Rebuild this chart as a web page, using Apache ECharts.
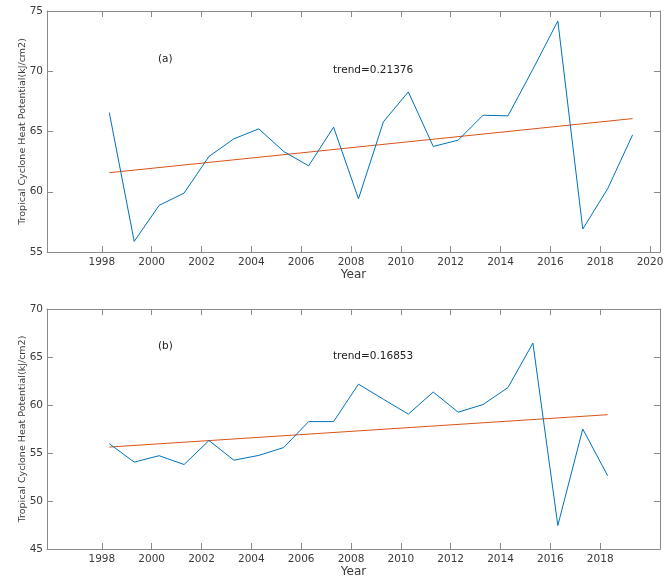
<!DOCTYPE html>
<html>
<head>
<meta charset="utf-8">
<script src="https://cdn.jsdelivr.net/npm/echarts@6/dist/echarts.min.js"></script>
<style>
html,body{margin:0;padding:0;background:#fff;}
#chart{width:668px;height:579px;}
</style>
</head>
<body>
<div id="chart"></div>
<script>
// ---- data ----
const yearsA = [1998.3,1999.3,2000.3,2001.3,2002.3,2003.3,2004.3,2005.3,2006.3,2007.3,2008.3,2009.3,2010.3,2011.3,2012.3,2013.3,2014.3,2015.3,2016.3,2017.3,2018.3,2019.3];
const tchpA  = [66.57,55.88,58.87,59.89,62.93,64.39,65.22,63.34,62.15,65.36,59.42,65.80,68.29,63.76,64.28,66.35,66.30,70.17,74.17,56.91,60.25,64.72];
const trendYearsA = [1998.3, 2019.3];
const trendA = [61.58, 66.07];

const yearsB = [1998.3,1999.3,2000.3,2001.3,2002.3,2003.3,2004.3,2005.3,2006.3,2007.3,2008.3,2009.3,2010.3,2011.3,2012.3,2013.3,2014.3,2015.3,2016.3,2017.3,2018.3];
const tchpB  = [55.97,54.05,54.72,53.80,56.30,54.25,54.75,55.57,58.27,58.27,62.17,60.60,59.05,61.35,59.25,60.05,61.82,66.45,47.45,57.50,52.63];
const trendYearsB = [1998.3, 2018.3];
const trendB = [55.62, 58.99];

const tickYearsA = [1998,2000,2002,2004,2006,2008,2010,2012,2014,2016,2018,2020];
const tickYearsB = [1998,2000,2002,2004,2006,2008,2010,2012,2014,2016,2018];
const panelLabels = ['(a)', '(b)'];
const trendLabels = ['trend=0.21376', 'trend=0.16853'];
const yName = 'Tropical Cyclone Heat Potential(kJ/cm2)';
const xName = 'Year';

// ---- styling ----
const FONT = 'DejaVu Sans';
const boxColor = '#8a8a8a';
const labelColor = '#3a3a3a';
const blue = '#0072BD';
const orange = '#D95319';
const xMin = 1995.8, xMax = 2020.4;

function zip(xs, ys){ return xs.map((x,i)=>[x, ys[i]]); }

function xAxes(gridIndex, ticks){
  return [
    {
      type:'value', gridIndex, min:xMin, max:xMax, position:'bottom',
      name:xName, nameLocation:'middle', nameGap:17, nameMoveOverlap:false,
      nameTextStyle:{fontFamily:FONT, fontSize:12, color:labelColor},
      axisLine:{show:true, onZero:false, lineStyle:{color:boxColor, width:1}},
      axisTick:{show:true, inside:true, length:6, customValues:ticks, lineStyle:{color:boxColor}},
      axisLabel:{show:true, customValues:ticks, margin:5, fontFamily:FONT, fontSize:10.5, color:labelColor,
        formatter:(v)=>String(Math.round(v))},
      splitLine:{show:false}
    },
    {
      type:'value', gridIndex, min:xMin, max:xMax, position:'top',
      axisLine:{show:true, onZero:false, lineStyle:{color:boxColor, width:1}},
      axisTick:{show:true, inside:true, length:6, customValues:ticks, lineStyle:{color:boxColor}},
      axisLabel:{show:false},
      splitLine:{show:false}
    }
  ];
}
function yAxes(gridIndex, mn, mx){
  return [
    {
      type:'value', gridIndex, min:mn, max:mx, interval:5, position:'left',
      name:yName, nameLocation:'middle', nameGap:19, nameMoveOverlap:false,
      nameTextStyle:{fontFamily:FONT, fontSize:9.5, color:labelColor},
      axisLine:{show:true, onZero:false, lineStyle:{color:boxColor, width:1}},
      axisTick:{show:true, inside:true, length:6, lineStyle:{color:boxColor}},
      axisLabel:{show:true, margin:4, fontFamily:FONT, fontSize:10.5, color:labelColor},
      splitLine:{show:false}
    },
    {
      type:'value', gridIndex, min:mn, max:mx, interval:5, position:'right',
      axisLine:{show:true, onZero:false, lineStyle:{color:boxColor, width:1}},
      axisTick:{show:true, inside:true, length:6, lineStyle:{color:boxColor}},
      axisLabel:{show:false},
      splitLine:{show:false}
    }
  ];
}

const chart = echarts.init(document.getElementById('chart'), null, {renderer:'canvas'});
const option = {
  animation:false,
  backgroundColor:'#fff',
  grid:[
    {left:47, right:8, top:11, height:241},
    {left:47, right:8, top:309, height:241}
  ],
  xAxis:[...xAxes(0, tickYearsA), ...xAxes(1, tickYearsB)],
  yAxis:[...yAxes(0, 55, 75), ...yAxes(1, 45, 70)],
  series:[
    {type:'line', xAxisIndex:0, yAxisIndex:0, data:zip(yearsA, tchpA), showSymbol:false, lineStyle:{color:blue, width:1}, z:3},
    {type:'line', xAxisIndex:0, yAxisIndex:0, data:zip(trendYearsA, trendA), showSymbol:false, lineStyle:{color:orange, width:1}, z:2},
    {type:'line', xAxisIndex:2, yAxisIndex:2, data:zip(yearsB, tchpB), showSymbol:false, lineStyle:{color:blue, width:1}, z:3},
    {type:'line', xAxisIndex:2, yAxisIndex:2, data:zip(trendYearsB, trendB), showSymbol:false, lineStyle:{color:orange, width:1}, z:2}
  ],
  graphic:[
    {type:'text', left:158, top:54, style:{text:panelLabels[0], font:'10.5px "DejaVu Sans"', fill:'#222'}},
    {type:'text', left:333, top:65, style:{text:trendLabels[0], font:'10.5px "DejaVu Sans"', fill:'#222'}},
    {type:'text', left:158, top:341, style:{text:panelLabels[1], font:'10.5px "DejaVu Sans"', fill:'#222'}},
    {type:'text', left:333, top:351, style:{text:trendLabels[1], font:'10.5px "DejaVu Sans"', fill:'#222'}}
  ]
};
chart.setOption(option);
</script>
</body>
</html>
